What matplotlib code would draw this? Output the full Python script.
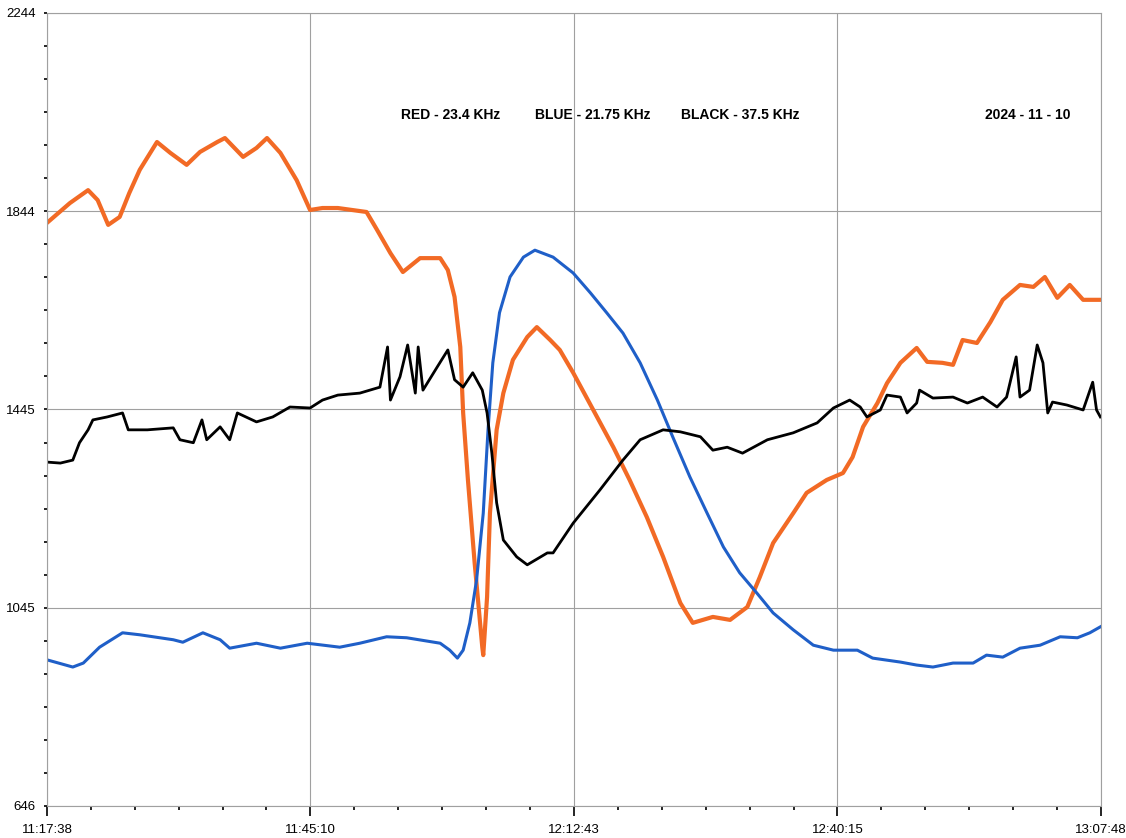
import matplotlib
matplotlib.use("Agg")
import matplotlib.pyplot as plt
import numpy as np

plt.rcParams['font.family'] = ['Liberation Sans', 'DejaVu Sans']

# time axis: minutes after 11:17:38
x_labels = ["11:17:38", "11:45:10", "12:12:43", "12:40:15", "13:07:48"]
y_major = [646, 1045, 1445, 1844, 2244]

# RED - 23.4 KHz
red_t = [0.0, 2.4, 4.3, 5.3, 6.4, 7.6, 8.6, 9.7, 11.5, 12.9, 14.6, 16.0, 17.8, 18.6,
         20.5, 21.9, 23.0, 24.4, 26.1, 27.5, 28.8, 30.4, 33.4, 34.5, 35.9, 37.2, 39.0,
         41.1, 41.9, 42.6, 43.2, 43.5, 44.0, 44.7, 45.5, 45.6, 46.0, 46.3, 47.0, 47.7,
         48.7, 50.2, 51.2, 52.6, 53.6, 55.0, 57.1, 59.2, 60.9, 62.7, 64.4, 66.2, 67.5,
         69.6, 71.4, 73.2, 74.5, 75.9, 78.0, 79.4, 81.5, 83.2, 84.2, 85.3, 86.8, 87.8,
         89.2, 90.9, 92.0, 93.6, 94.7, 95.7, 97.2, 98.6, 99.9, 101.7, 103.1, 104.3,
         105.6, 106.9, 108.3, 110.1]
red_v = [1821, 1861, 1887, 1867, 1817, 1833, 1881, 1928, 1984, 1962, 1938, 1964, 1984, 1992,
         1954, 1972, 1992, 1962, 1907, 1847, 1851, 1851, 1843, 1807, 1760, 1722, 1750,
         1750, 1726, 1672, 1571, 1438, 1303, 1136, 966, 950, 1067, 1236, 1404, 1478,
         1545, 1591, 1611, 1585, 1565, 1519, 1444, 1369, 1303, 1228, 1148, 1055, 1015,
         1027, 1021, 1047, 1107, 1176, 1236, 1277, 1303, 1317, 1349, 1410, 1458, 1498,
         1539, 1569, 1541, 1539, 1535, 1585, 1579, 1621, 1666, 1696, 1692, 1712,
         1670, 1696, 1666, 1666]

# BLUE - 21.75 KHz
blue_t = [0.1, 2.7, 3.8, 5.5, 7.9, 9.7, 13.2, 14.2, 16.3, 18.1, 19.1, 21.9, 24.4, 27.2,
          30.6, 32.7, 35.5, 37.6, 41.1, 42.1, 42.9, 43.5, 44.2, 44.9, 45.6, 46.1, 46.6,
          47.3, 48.4, 49.8, 51.0, 52.9, 55.0, 56.8, 58.5, 60.2, 62.0, 63.8, 65.4, 67.2,
          69.0, 70.7, 72.4, 74.2, 75.9, 78.0, 80.1, 82.2, 84.7, 86.3, 89.2, 90.9, 92.6,
          94.7, 96.8, 98.2, 99.9, 101.7, 103.8, 105.9, 107.7, 109.0, 110.1]
blue_v = [940, 926, 934, 966, 995, 991, 981, 976, 995, 981, 964, 974, 964, 974,
          966, 974, 987, 985, 974, 960, 944, 960, 1015, 1101, 1236, 1404, 1539,
          1640, 1712, 1752, 1766, 1752, 1720, 1680, 1640, 1599, 1539, 1464, 1390, 1309,
          1236, 1168, 1116, 1075, 1035, 1001, 970, 960, 960, 944, 936, 930, 926,
          934, 934, 950, 946, 964, 970, 987, 985, 995, 1007]

# BLACK - 37.5 KHz
black_t = [0.0, 1.4, 2.7, 3.4, 4.3, 4.8, 6.3, 7.9, 8.5, 10.5, 13.2, 13.9, 15.3, 16.2,
           16.7, 18.1, 19.1, 19.9, 21.9, 23.6, 25.4, 27.5, 28.8, 30.4, 32.7, 34.8, 35.6,
           35.9, 36.9, 37.7, 38.5, 38.8, 39.3, 40.8, 41.9, 42.6, 43.5, 44.5, 45.5, 46.0,
           46.5, 47.0, 47.7, 49.1, 50.2, 52.3, 52.9, 55.0, 57.8, 60.2, 62.0, 64.4, 66.2,
           68.3, 69.6, 71.1, 72.7, 75.3, 78.0, 80.5, 82.2, 83.9, 85.0, 85.7, 87.1, 87.8,
           89.2, 89.9, 90.9, 91.2, 92.6, 94.7, 96.2, 97.8, 99.3, 100.3, 101.3, 101.7,
           102.7, 103.5, 104.1, 104.6, 105.1, 106.6, 108.3, 109.3, 109.7, 110.1]
black_v = [1339, 1337, 1343, 1378, 1404, 1424, 1430, 1438, 1404, 1404, 1408, 1384, 1378, 1424,
           1384, 1410, 1384, 1438, 1420, 1430, 1450, 1448, 1464, 1474, 1478, 1490, 1571,
           1464, 1511, 1575, 1478, 1571, 1484, 1531, 1565, 1505, 1490, 1519, 1484, 1438,
           1357, 1257, 1182, 1148, 1132, 1156, 1156, 1216, 1283, 1343, 1384, 1404, 1400,
           1390, 1363, 1369, 1357, 1384, 1398, 1418, 1448, 1464, 1450, 1430, 1444, 1474,
           1470, 1438, 1458, 1484, 1468, 1470, 1458, 1470, 1450, 1470, 1551, 1470,
           1484, 1575, 1539, 1438, 1460, 1454, 1444, 1500, 1444, 1430]


def to_min(s):
    h, m, sec = [int(p) for p in s.split(":")]
    return (h * 3600 + m * 60 + sec - (11 * 3600 + 17 * 60 + 38)) / 60.0


x_major = [to_min(s) for s in x_labels]

fig = plt.figure(figsize=(11.26, 8.38), dpi=100)
ax = fig.add_axes([0.0417, 0.0382, 0.9361, 0.9463])

ax.plot(red_t, red_v, color='#f26a25', linewidth=3.0)
ax.plot(blue_t, blue_v, color='#1f5fc8', linewidth=2.2)
ax.plot(black_t, black_v, color='black', linewidth=2.0)

ax.set_xlim(x_major[0], x_major[-1])
ax.set_ylim(y_major[0], y_major[-1])

ax.set_xticks(x_major)
ax.set_xticklabels(x_labels)
ax.set_yticks(y_major)
ax.set_yticklabels([str(v) for v in y_major])

x_minor = []
for a, b in zip(x_major[:-1], x_major[1:]):
    x_minor += list(np.linspace(a, b, 7)[1:-1])
y_minor = []
for a, b in zip(y_major[:-1], y_major[1:]):
    y_minor += list(np.linspace(a, b, 7)[1:-1])
ax.set_xticks(x_minor, minor=True)
ax.set_yticks(y_minor, minor=True)

ax.tick_params(axis='x', which='major', direction='out', length=7, width=1.2, pad=6,
               labelsize=9.5)
ax.tick_params(axis='x', which='minor', direction='out', length=3, width=1.2)
ax.tick_params(axis='y', which='major', direction='out', length=2, width=1.2, pad=6,
               labelsize=9.5)
ax.tick_params(axis='y', which='minor', direction='out', length=2, width=1.2)

ax.grid(True, which='major', color='#a0a0a0', linewidth=0.8)
for sp in ax.spines.values():
    sp.set_color('#a0a0a0')
    sp.set_linewidth(0.8)

ty = 0.871
ax.text(0.336, ty, "RED - 23.4 KHz", transform=ax.transAxes, fontsize=10,
        fontweight='bold', ha='left', va='center')
ax.text(0.463, ty, "BLUE - 21.75 KHz", transform=ax.transAxes, fontsize=10,
        fontweight='bold', ha='left', va='center')
ax.text(0.602, ty, "BLACK - 37.5 KHz", transform=ax.transAxes, fontsize=10,
        fontweight='bold', ha='left', va='center')
ax.text(0.890, ty, "2024 - 11 - 10", transform=ax.transAxes, fontsize=10,
        fontweight='bold', ha='left', va='center')

fig.savefig("out.png", dpi=100)
